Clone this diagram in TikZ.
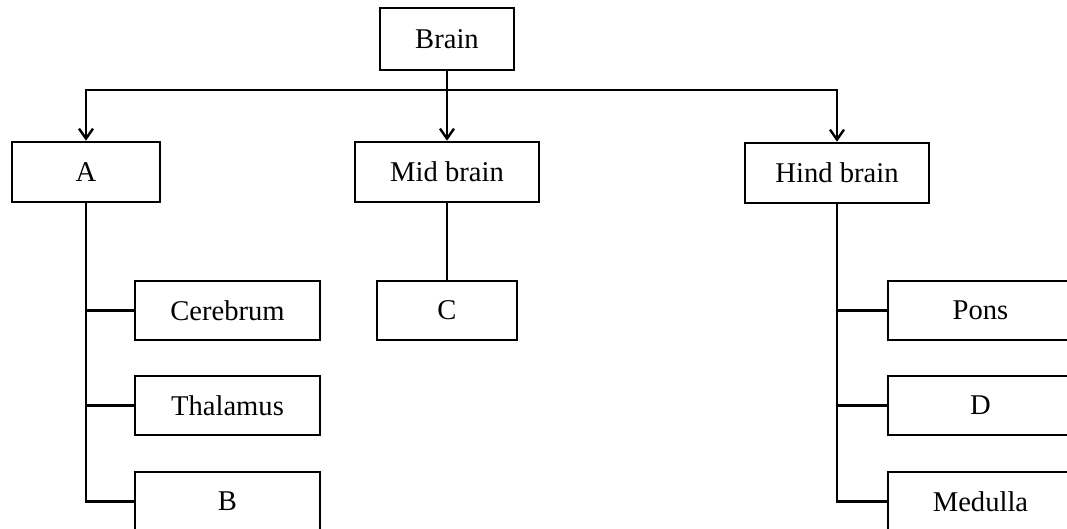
\documentclass[tikz,border=0pt]{standalone}
\usepackage{fontspec}
\setmainfont{Liberation Serif}
\usetikzlibrary{arrows.meta}

\tikzset{
    box/.style={draw, line width=1.3pt, inner sep=0pt, minimum width=185*0.5pt, minimum height=59*0.5pt, font=\fontsize{14.3}{17}\selectfont},
    link/.style={line width=1.2pt},
    arr/.style={line width=1.2pt, -{Straight Barb[length=5pt, width=7pt, line width=1.2pt]}}
}

\begin{document}
\begin{tikzpicture}[x=0.5pt, y=-0.5pt]
            \useasboundingbox (0,0) rectangle (1067,529);
            \clip (0,0) rectangle (1067,529);
            \node[box, minimum width=67pt, minimum height=31pt] (brain) at (447,39){Brain};
            \node[box, minimum width=74pt, minimum height=30pt] (a) at (86,172){A};
            \node[box, minimum width=92pt, minimum height=30pt] (mid) at (447,172){Mid brain};
            \node[box, minimum width=92pt, minimum height=30pt] (hind) at (837,173){Hind brain};
            \node[box] (cerebrum) at (227.5,310.5){Cerebrum};
            \node[box] (thalamus) at (227.5,405.5){Thalamus};
            \node[box] (b) at (227.5,501.5){B};
            \node[box, minimum width=70pt] (c) at (447,310.5){C};
            \node[box] (pons) at (980.5,310.5){Pons};
            \node[box] (d) at (980.5,405.5){D};
            \node[box] (medulla) at (980.5,501.5){Medulla};
            \coordinate (split) at (447,90);
            \draw[arr](brain)--(mid);
            \draw[arr](split)-|(a.north);
            \draw[arr](split)-|(hind.north);
            \draw[link](a.south)|-(b.west);
            \draw[link](a.south|-cerebrum.west)--(cerebrum.west);
            \draw[link](a.south|-thalamus.west)--(thalamus.west);
            \draw[link](mid)--(c);
            \draw[link](hind.south)|-(medulla.west);
            \draw[link](hind.south|-pons.west)--(pons.west);
            \draw[link](hind.south|-d.west)--(d.west);
        \end{tikzpicture}
\end{document}
